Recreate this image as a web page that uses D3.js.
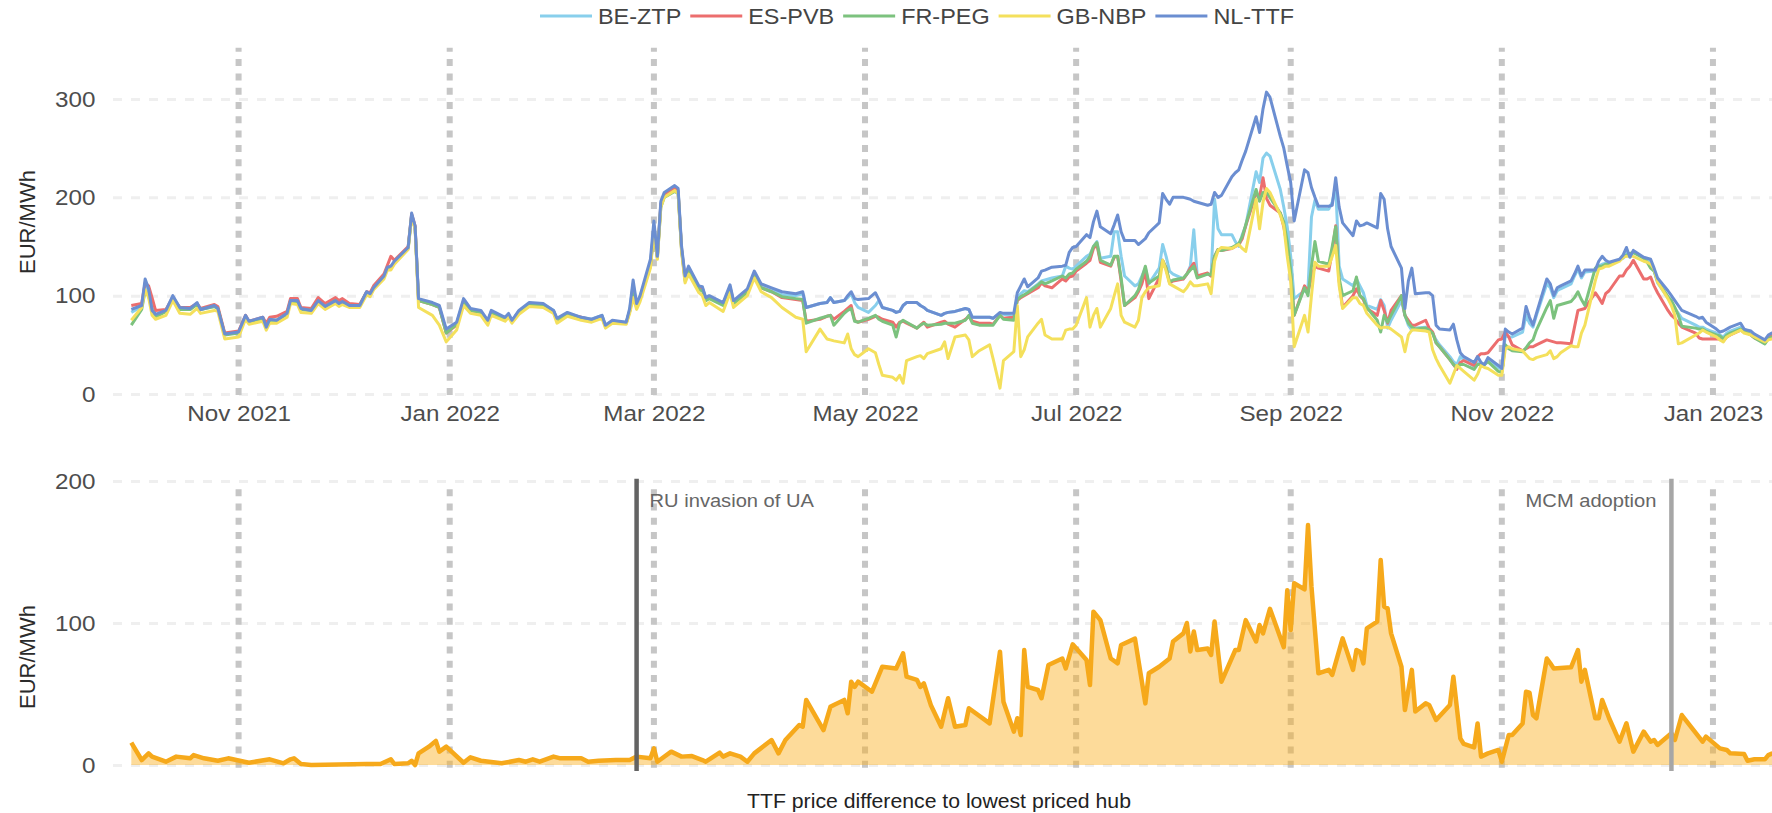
<!DOCTYPE html>
<html>
<head>
<meta charset="utf-8">
<script src="https://cdn.jsdelivr.net/npm/d3@7"></script>
<style>
  body { margin: 0; background: #fff; overflow: hidden; }
  text { font-family: "Liberation Sans", Arial, sans-serif; }
</style>
</head>
<body>
<div id="chart"></div>
<script>
// ---- data (EUR/MWh) ----
const dates = [
  "2021-10-01","2021-10-04","2021-10-05","2021-10-06","2021-10-07","2021-10-08","2021-10-11","2021-10-13","2021-10-15","2021-10-18","2021-10-20","2021-10-21","2021-10-25","2021-10-26","2021-10-28",
  "2021-11-01","2021-11-03","2021-11-04","2021-11-08","2021-11-09","2021-11-10","2021-11-12","2021-11-15","2021-11-16","2021-11-18","2021-11-19","2021-11-22","2021-11-24","2021-11-26","2021-11-29","2021-11-30",
  "2021-12-01","2021-12-03","2021-12-06","2021-12-08","2021-12-09","2021-12-10","2021-12-13","2021-12-14","2021-12-15","2021-12-16","2021-12-20","2021-12-21","2021-12-22","2021-12-23","2021-12-27","2021-12-29","2021-12-31",
  "2022-01-03","2022-01-05","2022-01-07","2022-01-10","2022-01-12","2022-01-13","2022-01-17","2022-01-18","2022-01-19","2022-01-21","2022-01-24","2022-01-28","2022-01-31",
  "2022-02-01","2022-02-04","2022-02-08","2022-02-11","2022-02-14","2022-02-15","2022-02-17","2022-02-21","2022-02-22","2022-02-23","2022-02-24","2022-02-25","2022-02-28",
  "2022-03-01","2022-03-02","2022-03-03","2022-03-04","2022-03-07","2022-03-08","2022-03-09","2022-03-10","2022-03-11","2022-03-14","2022-03-15","2022-03-16","2022-03-17","2022-03-21","2022-03-23","2022-03-24","2022-03-28","2022-03-30",
  "2022-04-01","2022-04-04","2022-04-07","2022-04-11","2022-04-13","2022-04-14","2022-04-18","2022-04-20","2022-04-21","2022-04-22","2022-04-25","2022-04-26","2022-04-27","2022-04-28","2022-04-29",
  "2022-05-02","2022-05-04","2022-05-05","2022-05-06","2022-05-09","2022-05-10","2022-05-11","2022-05-12","2022-05-13","2022-05-16","2022-05-17","2022-05-18","2022-05-19","2022-05-23","2022-05-24","2022-05-25","2022-05-27","2022-05-30","2022-05-31",
  "2022-06-01","2022-06-03","2022-06-06","2022-06-07","2022-06-09","2022-06-10","2022-06-13","2022-06-14","2022-06-15","2022-06-16","2022-06-17","2022-06-20","2022-06-21","2022-06-22","2022-06-24","2022-06-27","2022-06-28","2022-06-29","2022-06-30",
  "2022-07-01","2022-07-04","2022-07-05","2022-07-06","2022-07-07","2022-07-08","2022-07-11","2022-07-12","2022-07-13","2022-07-14","2022-07-15","2022-07-18","2022-07-19","2022-07-20","2022-07-21","2022-07-22","2022-07-25","2022-07-26","2022-07-27","2022-07-28","2022-07-29",
  "2022-08-01","2022-08-02","2022-08-03","2022-08-04","2022-08-05","2022-08-08","2022-08-09","2022-08-10","2022-08-11","2022-08-12","2022-08-15","2022-08-16","2022-08-17","2022-08-18","2022-08-19","2022-08-22","2022-08-23","2022-08-24","2022-08-25","2022-08-26","2022-08-29","2022-08-30","2022-08-31",
  "2022-09-01","2022-09-02","2022-09-05","2022-09-06","2022-09-07","2022-09-08","2022-09-09","2022-09-12","2022-09-13","2022-09-14","2022-09-15","2022-09-16","2022-09-19","2022-09-20","2022-09-21","2022-09-22","2022-09-23","2022-09-26","2022-09-27","2022-09-28","2022-09-29","2022-09-30",
  "2022-10-03","2022-10-04","2022-10-05","2022-10-06","2022-10-07","2022-10-10","2022-10-11","2022-10-12","2022-10-13","2022-10-14","2022-10-17","2022-10-18","2022-10-19","2022-10-20","2022-10-21","2022-10-24","2022-10-25","2022-10-26","2022-10-27","2022-10-28","2022-10-31",
  "2022-11-01","2022-11-02","2022-11-03","2022-11-04","2022-11-07","2022-11-08","2022-11-09","2022-11-10","2022-11-11","2022-11-14","2022-11-15","2022-11-16","2022-11-17","2022-11-18","2022-11-21","2022-11-22","2022-11-23","2022-11-24","2022-11-25","2022-11-28","2022-11-29","2022-11-30",
  "2022-12-01","2022-12-02","2022-12-05","2022-12-06","2022-12-07","2022-12-08","2022-12-09","2022-12-12","2022-12-13","2022-12-14","2022-12-15","2022-12-16","2022-12-19","2022-12-20","2022-12-21","2022-12-22","2022-12-23","2022-12-27","2022-12-28","2022-12-29","2022-12-30",
  "2023-01-02","2023-01-03","2023-01-04","2023-01-05","2023-01-06","2023-01-09","2023-01-10","2023-01-11","2023-01-12","2023-01-13","2023-01-16","2023-01-17","2023-01-18","2023-01-19","2023-01-20"
];

const beZtp = [
  83,89,112,104,88,80,84,99,87,86,92,86,89,87,61,
  63,79,73,77,68,75,75,81,95,94,86,85,95,89,95,91,
  94,90,90,104,102,108,120,129,129,135,149,182,170,96,92,89,63,
  72,95,86,84,74,84,77,81,74,84,92,91,85,
  76,82,78,76,80,70,74,73,85,112,90,99,132,
  170,140,194,203,210,207,148,118,128,108,108,97,99,92,109,94,105,122,
  110,106,101,100,102,88,92,93,98,93,95,98,102,93,88,
  83,90,95,88,85,83,84,90,93,93,90,88,85,80,82,83,84,87,86,
  78,78,78,77,82,81,79,98,102,105,104,112,115,116,118,120,130,128,127,
  130,140,142,150,155,138,140,165,165,140,120,110,112,120,128,112,128,152,140,125,122,
  117,122,130,167,120,122,120,198,168,162,162,155,150,162,171,226,215,240,245,242,208,190,170,
  140,97,105,108,180,197,188,188,195,211,130,117,110,117,110,103,90,86,96,90,67,75,
  95,80,70,65,67,68,65,62,55,50,38,33,30,38,35,28,32,29,30,35,27,
  25,60,58,58,63,80,72,68,80,112,108,98,105,107,112,120,127,118,124,125,130,132,
  133,133,136,138,143,140,144,138,136,134,125,113,98,92,87,82,77,70,68,68,66,
  62,60,58,62,64,68,64,63,62,59,53,58,60,59,58
];

const esPvb = [
  90,92,113,110,98,85,86,98,88,88,92,87,91,89,62,
  64,80,74,78,72,78,79,84,97,97,88,87,98,92,98,95,
  97,92,91,104,103,110,122,131,140,136,150,183,171,95,91,88,62,
  70,94,85,83,73,83,77,80,74,84,91,90,84,
  75,81,78,75,78,69,73,72,84,102,89,98,131,
  168,139,193,202,209,206,147,117,127,107,107,96,98,91,108,93,104,121,
  108,104,98,96,95,74,76,79,80,76,84,87,90,75,73,
  76,79,78,76,73,68,73,74,72,67,70,73,68,73,74,71,68,76,79,
  74,72,72,71,80,77,78,95,98,100,102,108,113,110,108,117,115,119,120,
  125,133,136,148,152,134,130,139,140,115,90,98,104,112,125,97,118,136,128,113,115,
  117,122,128,133,120,123,120,140,147,146,148,150,152,158,171,204,200,220,199,192,184,170,150,
  120,80,110,104,118,130,128,125,145,171,115,88,100,107,100,96,87,80,95,85,72,85,
  100,80,75,70,70,75,67,63,52,48,35,30,25,32,34,29,38,41,41,42,55,
  56,63,58,50,44,46,48,48,50,55,54,53,52,52,51,68,85,86,87,103,98,92,
  102,105,120,120,126,130,136,117,117,119,110,103,85,80,77,72,68,62,57,56,56,
  56,56,54,58,60,65,63,62,60,57,52,57,59,58,57
];

const frPeg = [
  70,86,105,100,85,78,84,97,86,86,91,86,89,87,60,
  62,78,73,77,68,75,75,81,94,93,86,85,94,89,95,91,
  93,90,90,103,101,107,119,128,128,134,148,181,169,95,91,88,62,
  71,94,85,83,73,83,77,80,74,84,91,90,84,
  75,81,77,75,79,69,73,72,84,102,89,97,130,
  166,138,190,200,206,204,146,115,125,106,105,95,97,90,106,92,103,120,
  108,104,99,97,96,72,77,79,80,70,82,85,87,74,73,
  77,80,76,74,70,58,72,75,73,67,70,72,70,71,72,72,72,75,80,
  72,70,70,70,80,76,75,96,99,101,103,111,114,112,115,120,118,122,123,
  127,135,140,150,154,136,131,140,140,118,90,100,106,118,130,113,120,136,128,114,116,
  118,122,126,130,118,122,121,140,147,146,149,151,153,160,172,208,196,205,205,200,184,175,155,
  125,80,108,100,130,155,135,132,150,170,118,100,105,119,100,97,88,75,63,80,73,80,
  100,80,72,68,66,67,65,62,52,48,35,30,27,30,30,25,30,30,30,33,23,
  22,50,46,44,43,47,52,55,65,88,95,77,90,91,94,98,104,96,90,128,130,130,
  132,132,136,139,141,143,144,138,134,128,125,115,99,95,88,80,69,67,66,66,64,
  60,59,56,60,62,66,63,62,60,57,51,56,58,57,56
];

const gbNbp = [
  75,88,106,98,80,76,80,95,82,81,87,82,85,84,56,
  58,76,71,74,65,72,72,78,92,91,83,82,92,86,92,89,
  91,88,88,101,99,106,117,126,126,132,147,180,168,88,80,70,53,
  65,90,82,80,70,80,74,78,72,81,89,88,82,
  72,79,75,73,77,67,72,71,82,98,86,94,128,
  165,137,190,200,207,204,145,113,122,103,100,90,93,84,103,88,100,118,
  104,98,88,78,76,43,66,56,55,54,52,61,46,40,38,
  46,42,30,19,17,14,19,11,34,38,39,36,41,46,53,36,58,60,55,
  38,44,50,36,6,34,43,90,38,45,58,72,76,60,56,56,65,66,66,
  70,98,68,80,87,68,87,100,112,80,73,68,75,98,104,108,110,136,125,112,110,
  104,108,114,110,110,112,102,135,146,149,148,150,152,148,145,198,168,195,209,205,182,171,140,
  115,48,80,63,100,134,130,130,140,151,110,87,98,98,92,90,82,70,67,68,68,66,
  58,43,60,65,65,64,63,45,36,29,11,20,29,26,23,14,20,29,27,26,19,
  19,46,48,46,44,40,36,35,37,40,44,36,38,42,49,48,48,62,70,115,127,128,
  130,130,135,139,140,140,140,135,134,132,127,114,97,90,80,51,52,60,62,65,63,
  58,55,53,58,60,65,62,61,60,58,53,55,56,56,55
];

const nlTtf = [
  86,90,117,107,85,81,85,100,88,87,93,86,90,87,61,
  63,80,74,78,68,76,75,82,95,95,87,85,95,89,95,92,
  94,90,90,104,102,108,120,129,130,135,149,184,171,97,93,90,66,
  73,97,87,85,75,85,78,82,75,85,93,92,85,
  77,83,78,76,80,70,75,73,87,116,92,100,137,
  176,140,196,205,212,209,150,120,130,110,109,98,100,93,111,95,107,125,
  112,108,104,102,104,88,92,93,98,93,95,100,104,97,96,
  97,103,96,88,85,83,84,90,93,93,90,88,85,80,82,83,84,87,86,
  78,78,78,77,83,82,82,103,110,117,109,118,125,126,129,130,131,144,149,
  150,162,159,175,186,170,163,172,182,165,156,156,152,155,158,164,174,204,198,193,200,
  200,199,198,196,195,192,193,205,200,202,221,225,228,238,247,282,266,290,307,302,262,250,232,
  215,176,228,225,210,200,191,191,192,220,190,174,161,176,171,172,174,169,204,198,168,150,
  128,87,115,128,102,103,103,100,70,66,65,71,55,42,38,32,38,32,30,37,29,
  26,66,63,61,67,89,78,70,82,117,112,100,108,110,115,122,130,120,126,126,135,140,
  136,134,137,141,149,139,146,139,138,137,128,118,105,100,95,90,85,79,77,78,73,
  66,63,64,66,68,72,66,65,64,61,55,60,62,61,60
];

// TTF minus the lowest priced hub
const spreadDates = [
  "2021-10-01","2021-10-04","2021-10-06","2021-10-07","2021-10-11","2021-10-14","2021-10-18","2021-10-19","2021-10-22","2021-10-26","2021-10-29",
  "2021-11-04","2021-11-10","2021-11-14","2021-11-16","2021-11-17","2021-11-19","2021-11-22",
  "2021-12-08","2021-12-12","2021-12-15","2021-12-16","2021-12-20","2021-12-21","2021-12-22","2021-12-23","2021-12-26","2021-12-28","2021-12-29","2021-12-31",
  "2022-01-05","2022-01-07","2022-01-10","2022-01-16","2022-01-21","2022-01-23","2022-01-25","2022-01-27","2022-01-31",
  "2022-02-02","2022-02-08","2022-02-10","2022-02-13","2022-02-18","2022-02-22","2022-02-24","2022-02-28",
  "2022-03-01","2022-03-02","2022-03-06","2022-03-09","2022-03-12","2022-03-15","2022-03-16","2022-03-20","2022-03-21","2022-03-23","2022-03-26","2022-03-28","2022-03-30",
  "2022-04-04","2022-04-06","2022-04-08","2022-04-12","2022-04-13","2022-04-14","2022-04-19","2022-04-21","2022-04-22","2022-04-25","2022-04-26","2022-04-27","2022-04-28","2022-04-29",
  "2022-05-03","2022-05-04","2022-05-06","2022-05-10","2022-05-12","2022-05-13","2022-05-16","2022-05-17","2022-05-18","2022-05-20","2022-05-23","2022-05-25","2022-05-27","2022-05-30","2022-05-31",
  "2022-06-06","2022-06-09","2022-06-10","2022-06-13","2022-06-14","2022-06-15","2022-06-16","2022-06-17","2022-06-20","2022-06-21","2022-06-23","2022-06-27","2022-06-28","2022-06-30",
  "2022-07-04","2022-07-05","2022-07-06","2022-07-08","2022-07-11","2022-07-13","2022-07-14","2022-07-18","2022-07-21","2022-07-22","2022-07-25","2022-07-28","2022-07-29",
  "2022-08-01","2022-08-02","2022-08-03","2022-08-04","2022-08-05","2022-08-08","2022-08-09","2022-08-10","2022-08-12","2022-08-16","2022-08-17","2022-08-19","2022-08-22","2022-08-23","2022-08-24","2022-08-26","2022-08-30","2022-08-31",
  "2022-09-01","2022-09-02","2022-09-05","2022-09-06","2022-09-07","2022-09-09","2022-09-12","2022-09-13","2022-09-16","2022-09-19","2022-09-20","2022-09-21","2022-09-22","2022-09-23","2022-09-26","2022-09-27","2022-09-28","2022-09-29","2022-09-30",
  "2022-10-03","2022-10-04","2022-10-06","2022-10-07","2022-10-10","2022-10-11","2022-10-13","2022-10-17","2022-10-18","2022-10-20","2022-10-21","2022-10-24","2022-10-25","2022-10-26","2022-10-28","2022-10-31",
  "2022-11-01","2022-11-03","2022-11-04","2022-11-07","2022-11-08","2022-11-09","2022-11-10","2022-11-11","2022-11-14","2022-11-15","2022-11-16","2022-11-21","2022-11-23","2022-11-24","2022-11-25","2022-11-28","2022-11-29","2022-11-30",
  "2022-12-02","2022-12-05","2022-12-07","2022-12-09","2022-12-12","2022-12-14","2022-12-15","2022-12-16","2022-12-20","2022-12-21","2022-12-23","2022-12-29","2022-12-30",
  "2023-01-03","2023-01-05","2023-01-06","2023-01-10","2023-01-11","2023-01-13","2023-01-16","2023-01-17","2023-01-18","2023-01-20"
];
const spreadValues = [
  15.7,3.5,8.2,5.9,2.3,5.9,4.7,7,4.7,3,4.7,
  1.6,4,1.2,4,4.7,0.7,0,
  0.7,0.7,4,0.7,1.2,3,0,8.2,12.9,17,9.4,12.9,
  1.6,5.4,3,1.2,3.5,2.3,4,2.3,5.9,
  4.7,4.7,2.3,3,3.5,3.5,5.9,4.7,
  11.7,2.3,9.4,5.9,6.3,3.5,2.3,8.7,5.9,8.2,5.9,2.3,8.2,
  17.6,8.2,17.6,28.2,27,45.8,24.6,41,42.3,45.8,36.4,58.7,55,58.7,
  51.6,57.5,69.2,68,78.6,62.2,60,55,57.5,42.3,27,47,27,28.2,40,
  29.3,79.8,44.6,23.5,32.9,21.1,81,55,52.8,47,70.4,75,68,85,
  74,56.3,108,102,75,71.6,84.5,89,43.4,64.6,69.2,75,87,
  92.7,100,80,94,81,82,77.5,101,58.7,81,81,102,87,98.6,92.7,110,83,123,
  95,128,123.7,169,125.6,64.6,67,63.4,89.2,67,81,79.8,71.6,96.2,101,144.4,111.5,110.3,92.7,
  69.2,38.7,67,37.6,43.4,42.3,31.7,42.3,62.2,18.8,14.8,12.4,29.3,5.9,8.2,10.6,
  2.3,21.1,21.1,29.3,51.6,51,35.2,32.9,75,71.6,68,68.8,81,58.7,67,32.9,32.9,45.8,
  32.9,16.4,29.3,9.4,23.5,16.4,17.6,14.1,22.3,17.6,35.2,16.4,20,
  11.7,10.6,8.2,7.7,3,4,4,7,8,9
];

const hubNames = ["BE-ZTP", "ES-PVB", "FR-PEG", "GB-NBP", "NL-TTF"];
const hubValues = [beZtp, esPvb, frPeg, gbNbp, nlTtf];
const hubColors = ["#88cfec", "#ec6e6e", "#7cc27e", "#f4e05c", "#6b8ed1"];

const yTicksTop = [0, 100, 200, 300];
const yTicksBottom = [0, 100, 200];

const eventDates = ["2022-02-24", "2022-12-20"];
const eventLabels = ["RU invasion of UA", "MCM adoption"];
const eventColors = ["#636363", "#a6a6a6"];

// ---- layout ----
const width = 1772, height = 813;
const panelLeft = 114, panelRight = 1796;
const stretch = 1.1;   // the reference text is slightly wide
const parseDate = d3.utcParse("%Y-%m-%d");

const svg = d3.select("#chart").append("svg")
    .attr("width", width)
    .attr("height", height)
    .style("display", "block");

const x = d3.scaleUtc()
    .domain([parseDate("2021-09-26"), parseDate("2023-01-25")])
    .range([panelLeft, panelRight]);
const yTop = d3.scaleLinear().domain([0, 300]).range([394, 99]);
const yBottom = d3.scaleLinear().domain([0, 200]).range([765, 481]);

const monthTicks = x.ticks(d3.utcMonth.every(2));

// horizontal grid + y tick labels
function yGrid(scale, ticks) {
  const g = svg.append("g")
      .attr("transform", "translate(" + (panelLeft - 1) + ",0)")
      .call(d3.axisLeft(scale).tickValues(ticks)
        .tickSize(-(width - panelLeft + 40)).tickPadding(16));
  g.select(".domain").remove();
  g.attr("font-size", null).attr("font-family", null);
  g.selectAll("line")
      .attr("stroke", "#efefef")
      .attr("stroke-width", 3)
      .attr("stroke-dasharray", "9,9");
  g.selectAll("text")
      .attr("font-size", 22)
      .attr("fill", "#4d4d4d")
      .attr("transform", "scale(" + stretch + ",1)");
}
yGrid(yTop, yTicksTop);
yGrid(yBottom, yTicksBottom);

// dotted month lines
function monthLines(yFrom, yTo) {
  svg.append("g").selectAll("line")
    .data(monthTicks)
    .join("line")
      .attr("x1", d => x(d)).attr("x2", d => x(d))
      .attr("y1", yFrom).attr("y2", yTo)
      .attr("stroke", "#c6c6c6")
      .attr("stroke-width", 6)
      .attr("stroke-dasharray", "7,7.3");
}
monthLines(yTop(-1), yTop(352));
monthLines(yBottom(-2), yBottom(196));

// x tick labels (top panel only)
const xAxis = svg.append("g")
    .attr("transform", "translate(0," + yTop(0) + ")")
    .call(d3.axisBottom(x).tickValues(monthTicks)
      .tickFormat(d3.utcFormat("%b %Y")).tickSize(0).tickPadding(11));
xAxis.select(".domain").remove();
xAxis.attr("font-size", null).attr("font-family", null);
xAxis.selectAll("text")
    .attr("font-size", 22)
    .attr("fill", "#4d4d4d")
    .attr("transform", "scale(" + stretch + ",1)");

// hub price lines
const hubLine = d3.line()
    .x(d => x(d.date))
    .y(d => yTop(d.value));

hubNames.forEach((name, i) => {
  const series = dates.map((d, j) => ({ date: parseDate(d), value: hubValues[i][j] }));
  svg.append("path")
      .datum(series)
      .attr("fill", "none")
      .attr("stroke", hubColors[i])
      .attr("stroke-width", 3)
      .attr("stroke-linejoin", "round")
      .attr("d", hubLine);
});

// spread area + line
const spread = spreadDates.map((d, j) => ({ date: parseDate(d), value: spreadValues[j] }));

svg.append("path")
    .datum(spread)
    .attr("fill", "#fbb020")
    .attr("fill-opacity", 0.45)
    .attr("d", d3.area()
      .x(d => x(d.date))
      .y0(yBottom(0))
      .y1(d => yBottom(d.value)));

svg.append("path")
    .datum(spread)
    .attr("fill", "none")
    .attr("stroke", "#f6a91b")
    .attr("stroke-width", 4.5)
    .attr("stroke-linejoin", "round")
    .attr("d", d3.line()
      .x(d => x(d.date))
      .y(d => yBottom(d.value)));

// event markers
eventDates.forEach((d, i) => {
  const ex = x(parseDate(d));
  svg.append("line")
      .attr("x1", ex).attr("x2", ex)
      .attr("y1", yBottom(201.5)).attr("y2", yBottom(-4.2))
      .attr("stroke", eventColors[i])
      .attr("stroke-width", 4.5);
  const left = i === 0;
  svg.append("text")
      .attr("transform", "translate(" + (left ? ex + 13 : ex - 15) + "," + (yBottom(200) + 26) + ") scale(" + stretch + ",1)")
      .attr("text-anchor", left ? "start" : "end")
      .attr("font-family", "'Open Sans', sans-serif")
      .attr("font-size", 18.3)
      .attr("fill", "#666")
      .text(eventLabels[i]);
});

// axis titles
[222, 657].forEach(cy => {
  svg.append("text")
      .attr("transform", "translate(35," + cy + ") rotate(-90)")
      .attr("text-anchor", "middle")
      .attr("font-size", 22)
      .attr("fill", "#2b2b2b")
      .text("EUR/MWh");
});

svg.append("text")
    .attr("transform", "translate(939,808) scale(" + stretch + ",1)")
    .attr("text-anchor", "middle")
    .attr("font-size", 19.3)
    .attr("fill", "#222")
    .text("TTF price difference to lowest priced hub");

// legend
let lx = 540;
hubNames.forEach((name, i) => {
  svg.append("line")
      .attr("x1", lx).attr("x2", lx + 52)
      .attr("y1", 16).attr("y2", 16)
      .attr("stroke", hubColors[i])
      .attr("stroke-width", 3);
  const t = svg.append("text")
      .attr("transform", "translate(" + (lx + 58) + ",23.5) scale(" + stretch + ",1)")
      .attr("font-size", 21.3)
      .attr("fill", "#444")
      .text(name);
  lx += 58 + t.node().getComputedTextLength() * stretch + 9;
});
</script>
</body>
</html>
